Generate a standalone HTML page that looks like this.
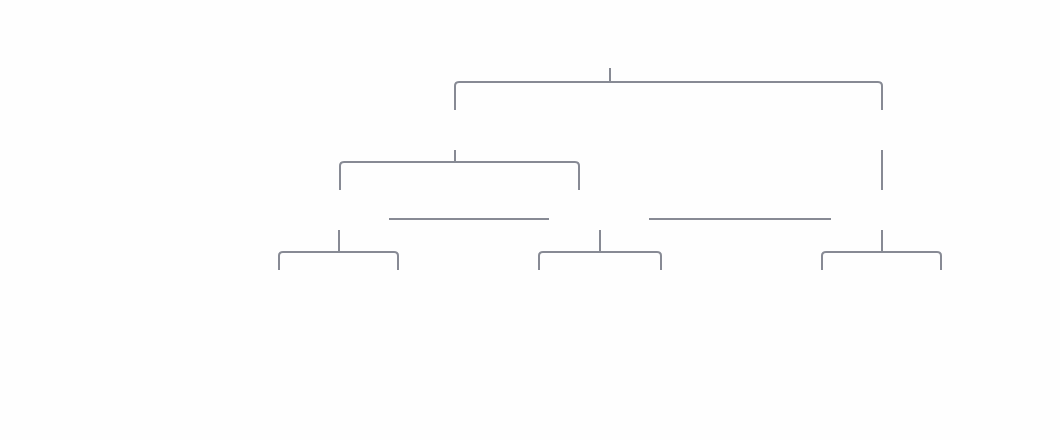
<!DOCTYPE html>
<html><head><meta charset="utf-8"><style>html,body{margin:0;padding:0;background:#fefefe;width:1060px;height:440px;overflow:hidden}</style></head>
<body>
<svg width="1060" height="440" viewBox="0 0 1060 440" xmlns="http://www.w3.org/2000/svg">
<g fill="none" stroke="#878a94" stroke-width="2">
<path d="M610 68 V82"/>
<path d="M455 110 V86 Q455 82 459 82 H878 Q882 82 882 86 V110"/>
<path d="M455 150 V162"/>
<path d="M340 190 V166 Q340 162 344 162 H575 Q579 162 579 166 V190"/>
<path d="M882 150 V190"/>
<path d="M389 219 H549"/>
<path d="M649 219 H831"/>
<path d="M339 230 V252"/>
<path d="M279 270 V256 Q279 252 283 252 H394 Q398 252 398 256 V270"/>
<path d="M600 230 V252"/>
<path d="M539 270 V256 Q539 252 543 252 H657 Q661 252 661 256 V270"/>
<path d="M882 230 V252"/>
<path d="M822 270 V256 Q822 252 826 252 H937 Q941 252 941 256 V270"/>
</g>
</svg>
</body></html>
